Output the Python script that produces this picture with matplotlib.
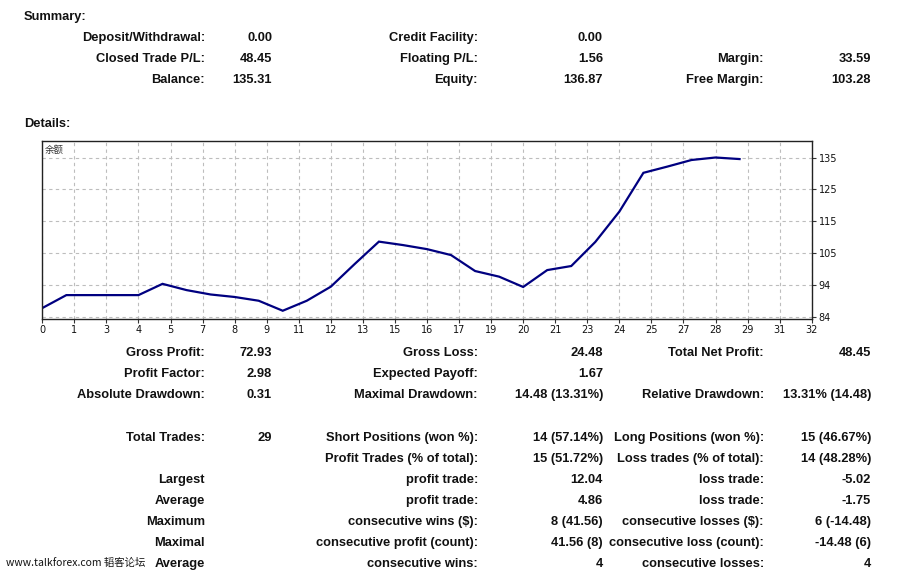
import numpy as np
import matplotlib
matplotlib.use("Agg")
import matplotlib.pyplot as plt

# ---------------- data ----------------
trades = list(range(30))
balance = [86.86, 91.0, 91.0, 91.0, 91.0, 94.6, 92.6, 91.2, 90.4, 89.2,
           86.0, 89.2, 93.7, 101.0, 108.1, 107.0, 105.7, 103.8, 98.7, 96.9,
           93.6, 99.0, 100.3, 108.0, 117.7, 130.1, 132.1, 134.2, 135.0, 134.5]

x_tick_labels = ["0", "1", "3", "4", "5", "7", "8", "9", "11", "12", "13", "15",
                 "16", "17", "19", "20", "21", "23", "24", "25", "27", "28",
                 "29", "31", "32"]
y_tick_labels = ["84", "94", "105", "115", "125", "135"]
chart_title = "余额"

summary_rows = [
    ("Deposit/Withdrawal:", "0.00", "Credit Facility:", "0.00", "", ""),
    ("Closed Trade P/L:", "48.45", "Floating P/L:", "1.56", "Margin:", "33.59"),
    ("Balance:", "135.31", "Equity:", "136.87", "Free Margin:", "103.28"),
]
detail_rows = [
    ("Gross Profit:", "72.93", "Gross Loss:", "24.48", "Total Net Profit:", "48.45"),
    ("Profit Factor:", "2.98", "Expected Payoff:", "1.67", "", ""),
    ("Absolute Drawdown:", "0.31", "Maximal Drawdown:", "14.48 (13.31%)",
     "Relative Drawdown:", "13.31% (14.48)"),
]
trade_rows = [
    ("Total Trades:", "29", "Short Positions (won %):", "14 (57.14%)",
     "Long Positions (won %):", "15 (46.67%)"),
    ("", "", "Profit Trades (% of total):", "15 (51.72%)",
     "Loss trades (% of total):", "14 (48.28%)"),
    ("Largest", "", "profit trade:", "12.04", "loss trade:", "-5.02"),
    ("Average", "", "profit trade:", "4.86", "loss trade:", "-1.75"),
    ("Maximum", "", "consecutive wins ($):", "8 (41.56)",
     "consecutive losses ($):", "6 (-14.48)"),
    ("Maximal", "", "consecutive profit (count):", "41.56 (8)",
     "consecutive loss (count):", "-14.48 (6)"),
    ("Average", "", "consecutive wins:", "4", "consecutive losses:", "4"),
]
watermark = "www.talkforex.com 韬客论坛"

# ---------------- figure ----------------
W, H = 915, 574
fig = plt.figure(figsize=(W / 100, H / 100), dpi=100)
fig.patch.set_facecolor("white")

def fx(px):
    return px / W

def fy(py):
    return 1 - py / H

FONT = ["Liberation Sans", "DejaVu Sans"]
FS = 9.3
TXT = "#111111"

col_right = [205, 272, 478, 603, 764, 871]

def put_rows(rows, y0, dy):
    for r, row in enumerate(rows):
        y = y0 + r * dy
        for c, s in enumerate(row):
            if s:
                fig.text(fx(col_right[c]), fy(y), s, ha="right", va="center",
                         fontsize=FS, fontweight="bold", family=FONT, color=TXT)

fig.text(fx(24), fy(17), "Summary:", ha="left", va="center", fontsize=FS,
         fontweight="bold", family=FONT, color=TXT)
put_rows(summary_rows, 38, 21)
fig.text(fx(24), fy(124), "Details:", ha="left", va="center", fontsize=FS,
         fontweight="bold", family=FONT, color=TXT)
put_rows(detail_rows, 353, 21)
put_rows(trade_rows, 438, 21)

fig.text(fx(6), fy(563), watermark, ha="left", va="center", fontsize=7.5,
         family=["Noto Sans CJK SC", "DejaVu Sans"], color="#111111")

# ---------------- chart ----------------
left, right, top, bottom = 42.3, 811.7, 140.7, 319.0
ax = fig.add_axes([fx(left), fy(bottom), fx(right - left), (bottom - top) / H])

y_lo, y_hi = 84.0, 135.0
px_per_unit = (317.0 - 157.5) / (y_hi - y_lo)
ax.set_ylim(y_lo - (bottom - 317.0) / px_per_unit, y_hi + (157.5 - top) / px_per_unit)
ax.set_xlim(0, 32)

ax.plot(trades, balance, color="#000080", lw=1.6, solid_joinstyle="miter")

xt = np.linspace(0, 32, len(x_tick_labels))
yt = np.linspace(y_lo, y_hi, len(y_tick_labels))
ax.set_xticks(xt)
ax.set_xticklabels(x_tick_labels)
ax.set_yticks(yt)
ax.set_yticklabels(y_tick_labels)
ax.yaxis.tick_right()
ax.tick_params(axis="both", labelsize=7, length=3, width=0.8, color="#333333",
               labelcolor="#111111")
ax.tick_params(axis="x", pad=1)
ax.tick_params(axis="y", pad=2)
for lab in ax.get_xticklabels() + ax.get_yticklabels():
    lab.set_family(["DejaVu Sans"])

ax.grid(True, color="#bdbdbd", linestyle=(0, (3, 3)), linewidth=0.8)
ax.set_axisbelow(True)
for sp in ax.spines.values():
    sp.set_color("#222222")
    sp.set_linewidth(1.0)

ax.text(0.003, 0.975, chart_title, transform=ax.transAxes, ha="left", va="top",
        fontsize=6.8, family=["Noto Sans CJK SC", "DejaVu Sans"], color="#333333")

fig.savefig("out.png", dpi=100, facecolor="white")
